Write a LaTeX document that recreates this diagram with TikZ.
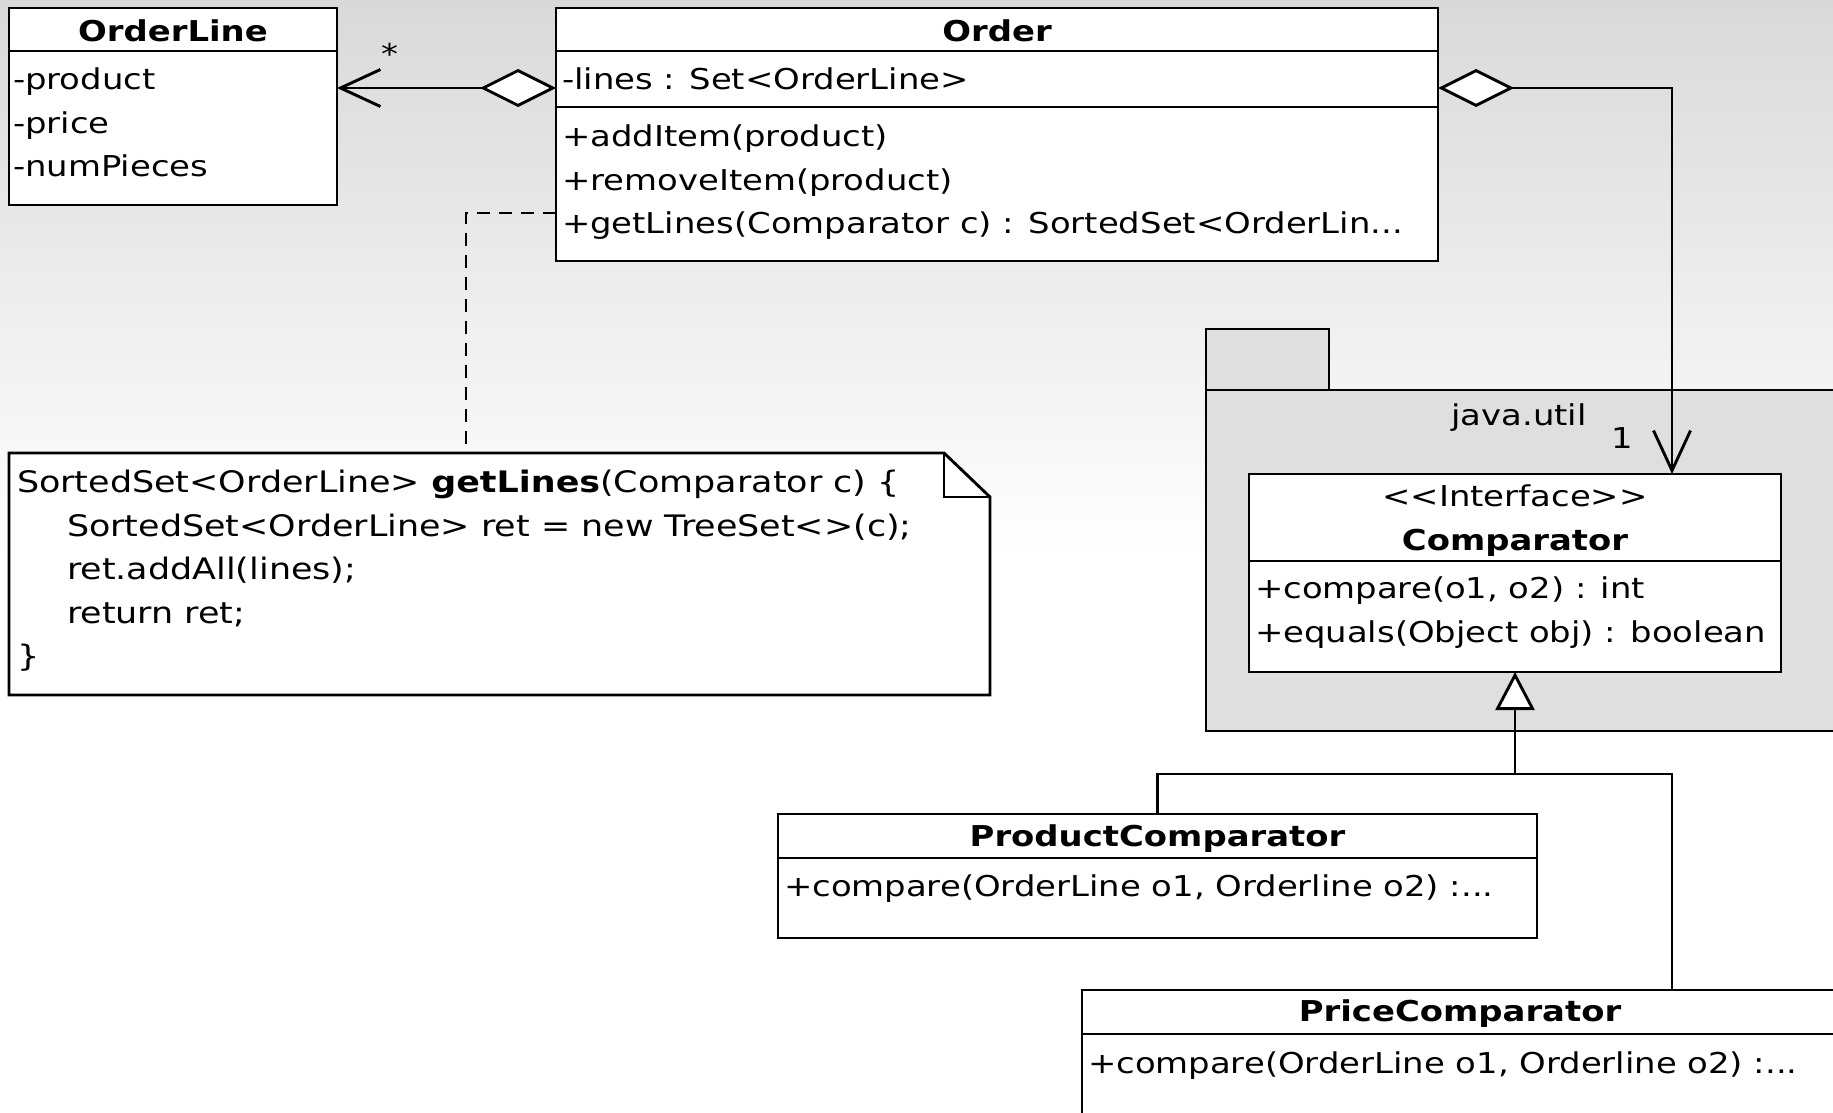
\documentclass[tikz,border=0pt]{standalone}
\usepackage{fontspec}
\setmainfont{DejaVu Sans}[FakeStretch=1.18]
\usetikzlibrary{arrows.meta}
\definecolor{bgtop}{RGB}{217,217,217}
\definecolor{pkgfill}{RGB}{223,223,223}
\newcommand{\umlfont}{\fontsize{28.7}{43.5}\selectfont}
\newcommand{\notefont}{\fontsize{29.6}{43.5}\selectfont}
\begin{document}
\begin{tikzpicture}[x=1pt, y=-1pt, line width=2.9pt,
		every node/.style={font=\umlfont, inner sep=0pt, outer sep=0pt},
		umlbox/.style={draw, fill=white, anchor=north west},
		txt/.style={anchor=base west},
		ttl/.style={anchor=base, font=\umlfont\bfseries},
		code/.style={anchor=base west, font=\notefont},
		aggr/.style={{Diamond[open, fill=white, length=76pt, width=38pt]}-{Straight Barb[length=40pt, width=37pt]}},
		gen/.style={-{Triangle[open, fill=white, length=38pt, width=39pt]}},
		notelink/.style={dash pattern=on 13pt off 9pt}]
	\fill[top color=bgtop, bottom color=white] (0,0) rectangle (1833,556);
	\fill[white] (0,556) rectangle (1833,1113);
	\useasboundingbox (0,0) rectangle (1833,1113);
	% package java.util
	\draw[fill=pkgfill] (1206,329) rectangle (1329,390);
	\draw[fill=pkgfill] (1206,390) rectangle (1845,731);
	\node[anchor=base] (pkgname) at (1519,425) {java.util};
	% classes
	\node[umlbox, minimum width=328pt, minimum height=197pt] (orderline) at (9,8) {};
	\draw ([yshift=-43pt]orderline.north west) -- ([yshift=-43pt]orderline.north east);
	\node[ttl] (oltitle) at (173,41.5) {OrderLine};
	\foreach \t [count=\i] in {-product,-price,-numPieces}
		\node[txt] (ol\i) at (13,46+43.5*\i) {\t};
	\node[umlbox, minimum width=882pt, minimum height=253pt] (order) at (556,8) {};
	\draw ([yshift=-43pt]order.north west) -- ([yshift=-43pt]order.north east);
	\draw ([yshift=-99pt]order.north west) -- ([yshift=-99pt]order.north east);
	\node[ttl] (otitle) at (997,41.5) {Order};
	\node[txt] (oattr) at (562,89.5) {-lines : Set<OrderLine>};
	\node[txt] (om1) at (562,146.5) {+addItem(product)};
	\node[txt] (om2) at (562,190) {+removeItem(product)};
	\node[txt] (om3) at (562,233) {+getLines(Comparator c) : SortedSet<OrderLin...};
	\node[umlbox, minimum width=532pt, minimum height=198pt] (comparator) at (1249,474) {};
	\draw ([yshift=-87pt]comparator.north west) -- ([yshift=-87pt]comparator.north east);
	\node[anchor=base] (cstereo) at (1515,506) {<{}<Interface>{}>};
	\node[ttl] (ctitle) at (1515,550) {Comparator};
	\foreach \t [count=\i] in {{+compare(o1, o2) : int},{+equals(Object obj) : boolean}}
		\node[txt] (cm\i) at (1255,555+43.5*\i) {\t};
	\node[umlbox, minimum width=759pt, minimum height=124pt] (prodcmp) at (778,814) {};
	\draw ([yshift=-44pt]prodcmp.north west) -- ([yshift=-44pt]prodcmp.north east);
	\node[ttl] (pdtitle) at (1157.5,846) {ProductComparator};
	\node[txt] (pdm) at (784,896) {+compare(OrderLine o1, Orderline o2) :...};
	\node[umlbox, minimum width=756pt, minimum height=140pt] (pricecmp) at (1082,990) {};
	\draw ([yshift=-44pt]pricecmp.north west) -- ([yshift=-44pt]pricecmp.north east);
	\node[ttl] (prtitle) at (1460,1021.5) {PriceComparator};
	\node[txt] (prm) at (1088,1073) {+compare(OrderLine o1, Orderline o2) :...};
	% note
	\node[anchor=north west, minimum width=981pt, minimum height=242pt] (note) at (9,453) {};
	\draw[fill=white] (note.north west) -- ([xshift=-46pt]note.north east) -- ([yshift=-44pt]note.north east)
		-- (note.south east) -- (note.south west) -- cycle;
	\draw ([xshift=-46pt]note.north east) |- ([yshift=-44pt]note.north east);
	\node[code] (code1) at (17,492.5) {SortedSet<OrderLine> \textbf{getLines}(Comparator c) \{};
	\node[code] (code2) at (67,536) {SortedSet<OrderLine> ret = new TreeSet<>(c);};
	\node[code] (code3) at (67,579.5) {ret.addAll(lines);};
	\node[code] (code4) at (67,623) {return ret;};
	\node[code] (code5) at (17,666.5) {\}};
	% connectors
	\coordinate (olin) at ([yshift=-80pt]orderline.north east);
	\coordinate (oleft) at ([yshift=-80pt]order.north west);
	\coordinate (oright) at ([yshift=-80pt]order.north east);
	\coordinate (cmpin) at ([xshift=157pt]comparator.north);
	\coordinate (oget) at ([yshift=-205pt]order.north west);
	\coordinate (notein) at ([xshift=-33.5pt]note.north);
	\coordinate (joint) at ([yshift=-102pt]comparator.south);
	\coordinate (pricein) at ([xshift=212pt]pricecmp.north);
	\draw[aggr] (oleft) -- (olin);
	\node[anchor=base] (many) at (390,65) {*};
	\draw[aggr] (oright) -| (cmpin);
	\node[anchor=base] (one) at (1622,448) {1};
	\draw[notelink] (oget) -| (notein);
	\draw (prodcmp.north) |- (pricein |- joint) -- (pricein);
	\draw[gen] (joint) -- (comparator.south);
\end{tikzpicture}
\end{document}
